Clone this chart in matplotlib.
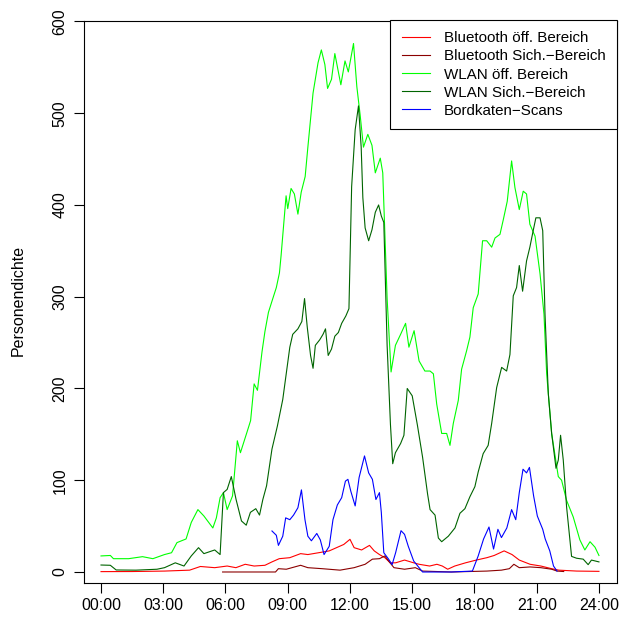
import matplotlib
matplotlib.use("Agg")
import matplotlib.pyplot as plt

plt.rcParams['font.family'] = ['Liberation Sans', 'DejaVu Sans']

# hours of day / values
wlan_oeff_t = [0, 0.45, 0.6, 1.33, 2.0, 2.5, 3.06, 3.4, 3.66, 4.1, 4.35, 4.67, 4.96, 5.39, 5.56, 5.74,
               5.9, 6.08, 6.34, 6.57, 6.72, 7.03, 7.21, 7.38, 7.54, 7.76, 7.9, 8.07, 8.28, 8.45, 8.6,
               8.68, 8.92, 9.0, 9.16, 9.32, 9.49, 9.65, 9.84, 9.97, 10.22, 10.46, 10.62, 10.79, 10.92,
               11.11, 11.27, 11.44, 11.56, 11.76, 11.92, 12.17, 12.33, 12.49, 12.65, 12.86, 13.06,
               13.22, 13.46, 13.58, 13.79, 13.98, 14.19, 14.44, 14.68, 14.84, 15.09, 15.33, 15.61,
               15.86, 16.02, 16.18, 16.42, 16.66, 16.82, 16.98, 17.22, 17.38, 17.62, 17.78, 17.94,
               18.18, 18.39, 18.59, 18.83, 18.99, 19.23, 19.39, 19.58, 19.79, 19.95, 20.16, 20.35,
               20.51, 20.67, 20.92, 21.16, 21.35, 21.48, 21.72, 22.04, 22.2, 22.44, 22.76, 23.08,
               23.32, 23.57, 23.81, 24.0]
wlan_oeff = [17.5, 18, 14.5, 14.5, 16.7, 14.5, 19, 21, 32, 36, 54, 68, 61, 48, 59, 81,
             86.5, 68, 83, 143, 130, 152, 165, 205, 198, 240, 262, 283, 298, 310, 326,
             345, 410, 396, 418, 412, 390, 414, 431, 463, 522, 555, 569, 553, 527,
             537, 565, 545, 531, 557, 545, 576, 529, 498, 463, 477, 465,
             435, 451, 435, 298, 218, 247, 259, 271, 245, 263, 230, 219,
             219, 216, 183, 151, 151, 138, 162, 187, 221, 241, 256, 288,
             303, 361, 361, 354, 364, 368, 384, 404, 448, 419, 395, 415,
             412, 379, 366, 325, 281, 216, 151, 104, 100, 78, 60, 35,
             24, 33, 27, 18]

wlan_sich_t = [0, 0.45, 0.73, 1.68, 2.7, 3.06, 3.58, 4.0, 4.35, 4.7, 4.96, 5.48, 5.74, 5.9, 6.08,
               6.28, 6.51, 6.77, 7.0, 7.2, 7.46, 7.64, 7.8, 7.98, 8.24, 8.5, 8.76, 9.1, 9.24, 9.49,
               9.68, 9.81, 9.94, 10.1, 10.22, 10.33, 10.54, 10.7, 10.82, 10.95, 11.11, 11.27, 11.44,
               11.6, 11.8, 11.95, 12.08, 12.25, 12.41, 12.54, 12.62, 12.73, 12.9, 13.06, 13.22,
               13.38, 13.51, 13.63, 13.79, 13.95, 14.06, 14.19, 14.44, 14.6, 14.76, 15.0, 15.25,
               15.5, 15.74, 15.86, 16.1, 16.26, 16.42, 16.74, 17.06, 17.3, 17.54, 17.78, 18.02,
               18.18, 18.42, 18.66, 18.83, 19.07, 19.31, 19.55, 19.71, 19.87, 20.03, 20.16, 20.32,
               20.51, 20.67, 20.83, 20.96, 21.16, 21.29, 21.4, 21.56, 21.72, 21.93, 22.04, 22.15,
               22.28, 22.44, 22.68, 22.92, 23.24, 23.48, 23.64, 24.0]
wlan_sich = [7.6, 7.3, 2.2, 2, 3, 4.7, 10, 6.5, 17.5, 26.5, 20, 24, 19, 86.5, 90,
             104, 79, 55.6, 51, 65, 69, 62, 79, 94, 134, 159, 188, 245, 259, 265,
             273, 298, 267, 236, 222, 247, 253, 259, 265, 236, 243, 257, 261,
             271, 279, 287, 420, 482, 508, 463, 408, 375, 361, 373, 392,
             400, 388, 381, 247, 161, 118, 130, 140, 149, 200, 192, 160,
             125, 85, 68, 62, 37, 33, 39, 48, 64, 69, 82, 93,
             109, 129, 138, 162, 201, 223, 219, 237, 301, 310, 334, 306,
             339, 354, 372, 386, 386, 372, 281, 194, 151, 113, 122, 149,
             122, 71, 17, 15, 14, 8, 13, 11]

bt_oeff_t = [0, 1.5, 3.06, 4.27, 4.79, 5.48, 6.08, 6.5, 6.95, 7.38, 7.9, 8.24, 8.59, 9.1, 9.62,
             9.97, 10.49, 11.0, 11.35, 11.7, 12.0, 12.2, 12.56, 12.94, 13.17, 13.42, 13.68, 13.94,
             14.2, 14.63, 15.07, 15.33, 15.84, 16.19, 16.45, 16.71, 17.05, 17.57, 18.09, 18.6,
             18.95, 19.43, 19.81, 20.16, 20.68, 21.2, 21.72, 22.07, 22.93, 24.0]
bt_oeff = [0.4, 0.5, 1, 2, 6, 4.7, 6.5, 4.7, 8.4, 6.5, 7.3, 11, 14.5, 15.6, 20,
           19, 21, 23, 26.5, 30, 35.6, 26.5, 24, 29, 23, 19, 15.6, 10,
           10, 13, 10, 8.4, 6.5, 8.4, 6.5, 3, 6.5, 10, 13, 15.6,
           18, 23, 19, 13, 8.4, 6.5, 3.6, 2, 1, 0.7]

bt_sich_t = [5.86, 8.41, 8.55, 8.93, 9.62, 9.97, 10.66, 11.52, 12.2, 12.73, 13.08, 13.42, 13.68,
             13.86, 14.12, 14.63, 15.15, 15.5, 16.88, 18.6, 19.3, 19.68, 19.9, 20.16, 20.68,
             21.2, 21.72, 21.98, 22.3]
bt_sich = [0, 0, 3.6, 3, 7.3, 4.7, 3.6, 2, 4.7, 8.4, 14, 14.5, 17.5,
           12, 4.7, 3, 4.7, 1, 0, 1, 2, 3.6, 8.4, 4.7, 5.5,
           4.7, 3, 1, 0.5]

scans_t = [8.24, 8.45, 8.55, 8.76, 8.9, 9.1, 9.28, 9.49, 9.66, 9.83, 9.97, 10.14, 10.4, 10.57,
           10.75, 11.0, 11.18, 11.39, 11.6, 11.78, 11.9, 12.04, 12.25, 12.44, 12.7, 12.9, 13.08,
           13.25, 13.42, 13.51, 13.63, 13.86, 14.03, 14.2, 14.46, 14.63, 14.81, 15.07, 15.33,
           15.5, 15.84, 16.9, 17.9, 18.18, 18.44, 18.7, 18.92, 19.13, 19.3, 19.56, 19.79, 19.99,
           20.16, 20.34, 20.51, 20.65, 20.85, 21.03, 21.29, 21.41, 21.63, 21.81, 21.98]
scans = [44.7, 40, 29, 39, 59, 57, 62, 70, 89.5, 57, 39, 34, 42, 35,
         19, 28, 57, 73, 81, 99, 101, 88, 72, 103, 126.5, 108, 101,
         79, 86.5, 65, 21, 14, 8, 21, 45, 41, 28, 12, 4.7,
         0, 0, 0, 1, 17.5, 36, 49, 25, 46.5, 37.5, 48, 68, 57,
         86.5, 112, 108, 114, 83, 61, 46.5, 36, 23, 6.5, 1]

labels = ["Bluetooth öff. Bereich", "Bluetooth Sich.\u2212Bereich", "WLAN öff. Bereich",
          "WLAN Sich.\u2212Bereich", "Bordkaten\u2212Scans"]
colors = ["#ff0000", "#8b0000", "#00ff00", "#006400", "#0000ff"]
x_ticks = [0, 3, 6, 9, 12, 15, 18, 21, 24]
x_ticklabels = ["00:00", "03:00", "06:00", "09:00", "12:00", "15:00", "18:00", "21:00", "24:00"]
y_ticks = [0, 100, 200, 300, 400, 500, 600]

fig = plt.figure(figsize=(6.19, 6.21), dpi=100)
ax = fig.add_axes([84 / 619, 38 / 621, (617 - 84) / 619, (583 - 21) / 621])

series = [(bt_oeff_t, bt_oeff), (bt_sich_t, bt_sich), (wlan_oeff_t, wlan_oeff),
          (wlan_sich_t, wlan_sich), (scans_t, scans)]
handles = []
for (t, v), c, lab in zip(series, colors, labels):
    h, = ax.plot(t, v, color=c, lw=0.8, label=lab)
    handles.append(h)

ax.set_xlim(-0.82, 24.87)
ax.set_ylim(-12, 600.5)
ax.set_xticks(x_ticks)
ax.set_xticklabels(x_ticklabels)
ax.set_yticks(y_ticks)
ax.set_yticklabels([str(y) for y in y_ticks], rotation=90, va='center')
ax.tick_params(direction='out', length=7, width=0.8, labelsize=11.5, colors='black')
ax.tick_params(axis='x', pad=4)
ax.tick_params(axis='y', pad=5)
for s in ax.spines.values():
    s.set_linewidth(0.8)
    s.set_color('black')

fig.text(18 / 619, 1 - 300 / 621, "Personendichte", rotation=90, ha='center', va='center',
         fontsize=11.5)

leg = ax.legend(handles=handles, loc='upper right', bbox_to_anchor=(617 / 619, 1 - 20 / 621),
                bbox_transform=fig.transFigure, fontsize=10.9, frameon=True, fancybox=False,
                framealpha=1, edgecolor='black', borderpad=0.75, labelspacing=0.27,
                handlelength=1.85, handletextpad=0.95, borderaxespad=0)
leg.get_frame().set_linewidth(0.8)

fig.savefig("out.png", dpi=100)
